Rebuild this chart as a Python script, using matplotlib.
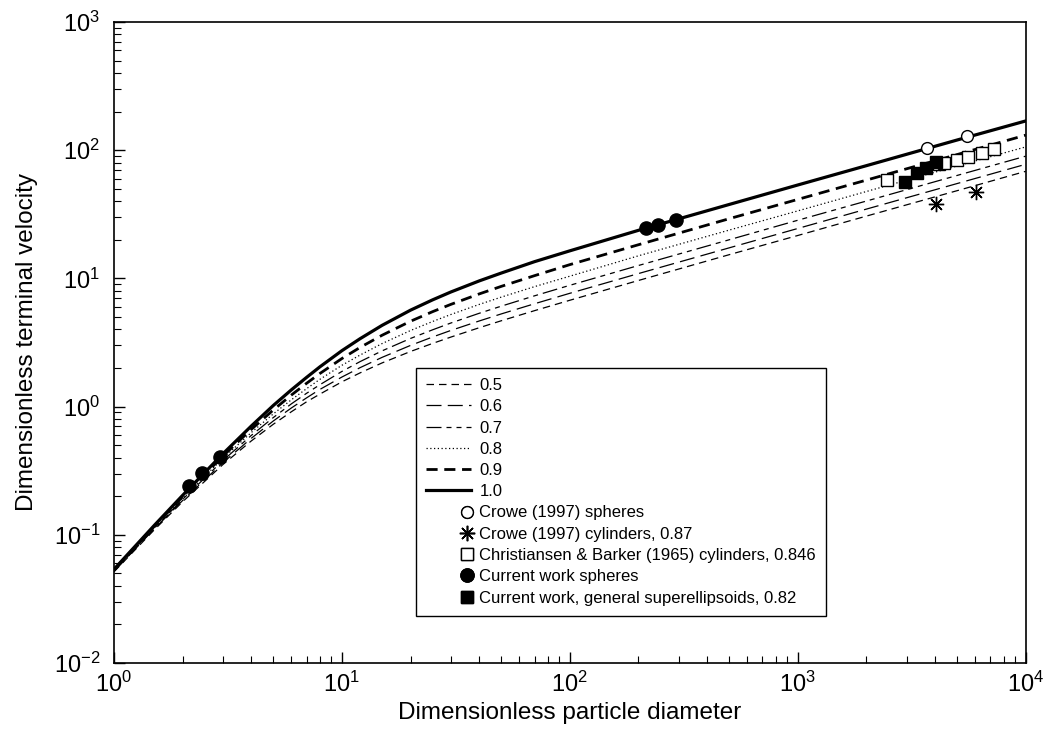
import numpy as np
import matplotlib
matplotlib.use('Agg')
import matplotlib.pyplot as plt
from matplotlib.legend_handler import HandlerLine2D

# dimensionless particle diameter where the curves were read
d_star = [1, 1.5, 2, 3, 4, 5, 6, 7, 8, 10, 12, 15, 20, 25, 30, 40, 50, 70,
          100, 200, 500, 1000, 2000, 5000, 10000]

# dimensionless terminal velocity, one list per sphericity
sph_labels = ['0.5', '0.6', '0.7', '0.8', '0.9', '1.0']
u_05 = [0.0514, 0.109, 0.181, 0.352, 0.539, 0.728, 0.911, 1.09, 1.25, 1.56, 1.83, 2.19, 2.69,
        3.11, 3.48, 4.12, 4.67, 5.60, 6.75, 9.63, 15.3, 21.6, 30.6, 48.3, 68.4]
u_06 = [0.0518, 0.111, 0.185, 0.364, 0.565, 0.772, 0.975, 1.17, 1.36, 1.70, 2.01, 2.42, 3.00,
        3.49, 3.92, 4.65, 5.28, 6.34, 7.65, 10.9, 17.3, 24.5, 34.7, 54.9, 77.6]
u_07 = [0.0523, 0.112, 0.189, 0.378, 0.595, 0.821, 1.05, 1.27, 1.48, 1.88, 2.24, 2.72, 3.40,
        3.97, 4.48, 5.34, 6.07, 7.31, 8.83, 12.6, 20.0, 28.4, 40.1, 63.5, 89.8]
u_08 = [0.0528, 0.114, 0.194, 0.393, 0.627, 0.877, 1.13, 1.38, 1.63, 2.10, 2.52, 3.10, 3.92,
        4.61, 5.22, 6.26, 7.14, 8.62, 10.4, 15.0, 23.8, 33.6, 47.6, 75.3, 106.0]
u_09 = [0.0533, 0.116, 0.198, 0.410, 0.663, 0.941, 1.23, 1.52, 1.81, 2.37, 2.89, 3.60, 4.63,
        5.50, 6.26, 7.56, 8.66, 10.5, 12.8, 18.3, 29.2, 41.3, 58.4, 92.4, 131.0]
u_10 = [0.0538, 0.118, 0.203, 0.427, 0.704, 1.02, 1.35, 1.69, 2.04, 2.73, 3.38, 4.30, 5.65,
        6.80, 7.82, 9.55, 11.0, 13.5, 16.4, 23.7, 37.7, 53.5, 75.7, 120.0, 169.0]

# measured / computed points
crowe_sph_d = [3705, 5530]
crowe_sph_u = [103.5, 129.0]
crowe_cyl_d = [4045, 6058]
crowe_cyl_u = [38.0, 47.4]
cb_cyl_d = [2472, 4180, 4385, 4990, 5610, 6415, 7265]
cb_cyl_u = [58.6, 77.6, 79.4, 83.9, 89.0, 95.6, 101.6]
cw_sph_d = [2.14, 2.43, 2.92, 216, 244, 292]
cw_sph_u = [0.240, 0.302, 0.406, 24.6, 26.2, 28.5]
cw_gen_d = [2958, 3350, 3655, 4034]
cw_gen_u = [56.8, 66.7, 72.2, 81.3]


class HandlerRightMarker(HandlerLine2D):
    # legend marker sits at the right end of the handle, not in the middle
    def get_xdata(self, legend, xdescent, ydescent, width, height, fontsize):
        xm = -xdescent + width - 0.25 * fontsize
        return [xm, xm], [xm, xm]


def main():
    plt.rcParams['font.family'] = ['Liberation Sans', 'DejaVu Sans']
    plt.rcParams['mathtext.fontset'] = 'custom'
    plt.rcParams['mathtext.rm'] = 'Liberation Sans'
    plt.rcParams['mathtext.it'] = 'Liberation Sans:italic'

    fig = plt.figure(figsize=(10.43, 7.35), dpi=100)
    ax = fig.add_axes([0.1093, 0.098, 0.8741, 0.8721])

    curves = [u_05, u_06, u_07, u_08, u_09, u_10]
    styles = [
        dict(lw=0.9, dashes=(6, 4)),
        dict(lw=0.9, dashes=(12, 5)),
        dict(lw=0.9, dashes=(12, 4, 4, 4, 4, 4)),
        dict(lw=0.9, dashes=(1, 2)),
        dict(lw=2.0, dashes=(4, 2.4)),
        dict(lw=2.3),
    ]
    for u, lab, st in zip(curves, sph_labels, styles):
        ax.plot(d_star, u, color='k', label=lab, **st)

    pts = []
    pts.append(ax.plot(crowe_sph_d, crowe_sph_u, 'o', ms=8.5, mfc='white', mec='k', mew=1.0,
                       ls='none', label='Crowe (1997) spheres')[0])
    pts.append(ax.plot(crowe_cyl_d, crowe_cyl_u, marker=(8, 2, 0), ms=11, color='k', mew=1.0,
                       ls='none', label='Crowe (1997) cylinders, 0.87')[0])
    pts.append(ax.plot(cb_cyl_d, cb_cyl_u, 's', ms=8.5, mfc='white', mec='k', mew=1.0,
                       ls='none', label='Christiansen & Barker (1965) cylinders, 0.846')[0])
    pts.append(ax.plot(cw_sph_d, cw_sph_u, 'o', ms=9.5, color='k',
                       ls='none', label='Current work spheres')[0])
    pts.append(ax.plot(cw_gen_d, cw_gen_u, 's', ms=8.5, color='k',
                       ls='none', label='Current work, general superellipsoids, 0.82')[0])

    ax.set_xscale('log')
    ax.set_yscale('log')
    ax.set_xlim(1, 1e4)
    ax.set_ylim(1e-2, 1e3)

    ax.set_xlabel('Dimensionless particle diameter', fontsize=17.5, labelpad=4)
    ax.set_ylabel('Dimensionless terminal velocity', fontsize=17.5, labelpad=11)

    ax.tick_params(which='both', direction='in', top=False, right=False, labelsize=17)
    ax.tick_params(which='major', length=8, width=1.0, pad=6)
    ax.tick_params(which='minor', length=5, width=0.8)
    ax.tick_params(axis='y', which='major', pad=10)
    for s in ax.spines.values():
        s.set_linewidth(1.2)

    hmap = {}
    for p in pts:
        hmap[p] = HandlerRightMarker(numpoints=2)
    leg = ax.legend(loc='upper left', bbox_to_anchor=(416 / 1043, 1 - 368 / 735),
                    bbox_transform=fig.transFigure, borderaxespad=0, fontsize=12,
                    handlelength=2.7, handletextpad=0.5, labelspacing=0.375,
                    borderpad=0.6, fancybox=False, framealpha=1, edgecolor='k',
                    handler_map=hmap)
    leg.get_frame().set_linewidth(1.0)

    fig.savefig('out.png', dpi=100)
    plt.close(fig)
    return 0


if __name__ == "__main__":
    main()
